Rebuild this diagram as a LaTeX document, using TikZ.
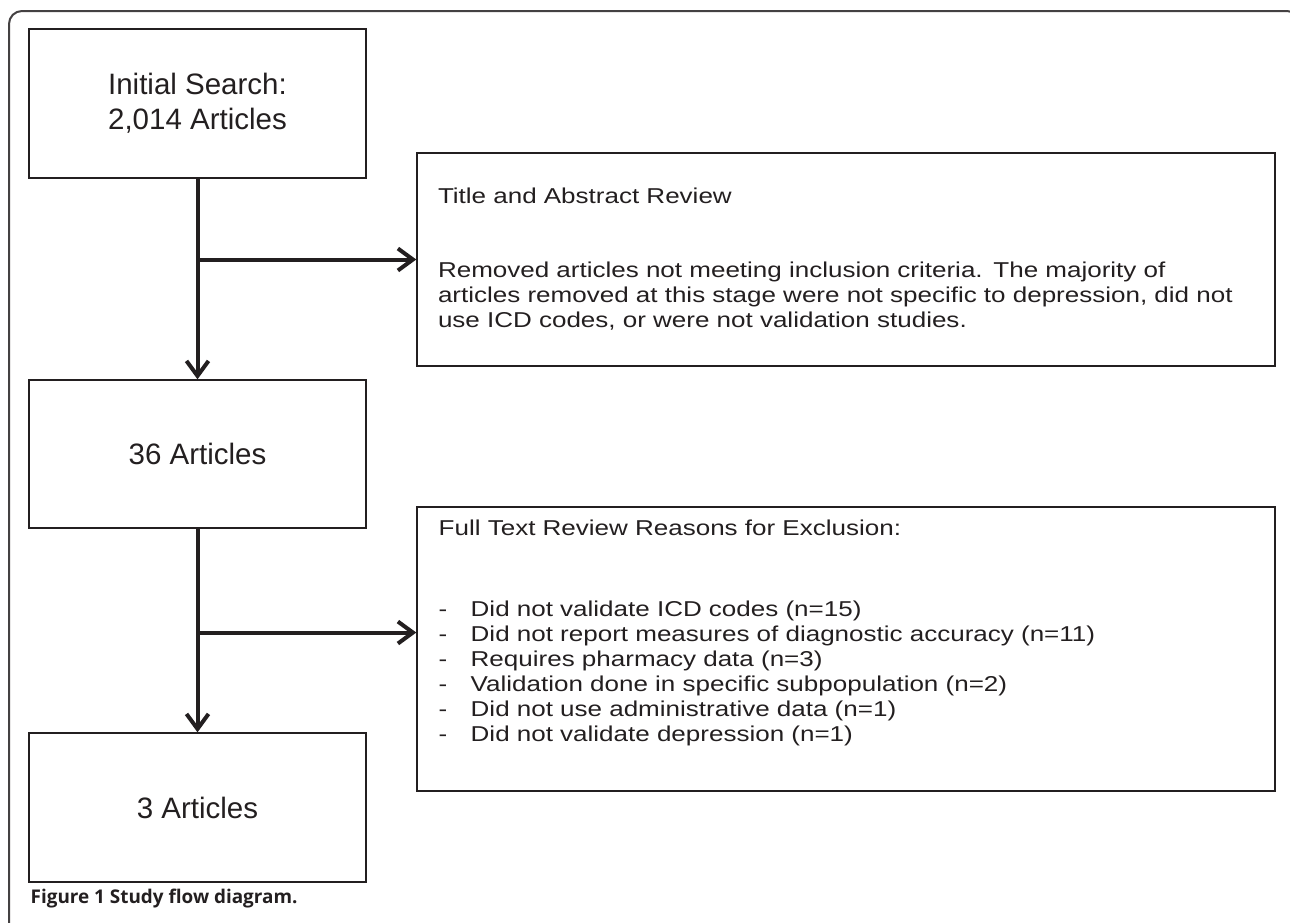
\documentclass[tikz,border=0pt]{standalone}
\usepackage{fontspec}
\setmainfont{Liberation Sans}
\newfontfamily\widefont[FakeStretch=1.21]{Liberation Sans}
\newfontfamily\captionfont{Open Sans}
\usetikzlibrary{arrows.meta, positioning, calc}
\definecolor{ink}{HTML}{231F20}
\newcommand{\dashitem}{\makebox[32pt][l]{-}}

\begin{document}
\begin{tikzpicture}[x=1pt, y=-1pt, thick]

	% Define style for boxes
	\tikzstyle{block} = [rectangle, draw=ink, line width=1.4pt, text=ink,
						minimum width=337pt, minimum height=149pt,
						align=center, font=\fontsize{29.5}{35}\selectfont]
	\tikzstyle{reason} = [rectangle, draw=ink, line width=1.4pt, text=ink,
						inner xsep=21pt, inner ysep=0pt, text width=816pt, align=left,
						font=\widefont\fontsize{21.5}{25}\selectfont]

	% Define style for arrows
	\tikzstyle{line} = [draw=ink, line width=4pt, -{Straight Barb[length=15pt, width=22pt]}]

	% Page and outer frame
	\useasboundingbox (0,0) rectangle (1290,922);
	\clip (0,0) rectangle (1290,922);
	\draw [ink!85, line width=2pt, rounded corners=13pt] (9,940) -- (9,11) -- (1300,11) -- (1300,940);

	% Place nodes
	\node [block] (search) at (197.5,103.5) {Initial Search:\\2,014 Articles};
	\node [block, minimum height=148pt] (screened) at (197.5,454) {36 Articles};
	\node [block] (included) at (197.5,807.5) {3 Articles};
	\node [reason, minimum height=213pt] (titlereview) at (846,259.5)
		{Title and Abstract Review\\[49pt]
		 Removed articles not meeting inclusion criteria. The majority of\\
		 articles removed at this stage were not specific to depression, did not\\
		 use ICD codes, or were not validation studies.};
	\node [reason, minimum height=284pt] (fulltext) at (846,649) {};
	\node [reason, draw=none, minimum height=0pt, anchor=base west, inner xsep=0pt]
		(fulltextlist) at (438,535)
		{Full Text Review Reasons for Exclusion:\\[56pt]
		 \dashitem Did not validate ICD codes (n=15)\\
		 \dashitem Did not report measures of diagnostic accuracy (n=11)\\
		 \dashitem Requires pharmacy data (n=3)\\
		 \dashitem Validation done in specific subpopulation (n=2)\\
		 \dashitem Did not use administrative data (n=1)\\
		 \dashitem Did not validate depression (n=1)};
	\node [anchor=base west, text=ink, font=\captionfont\bfseries\fontsize{18.9}{22}\selectfont]
		(caption) at (27,903) {Figure 1 Study flow diagram.};

	% Branch points on the vertical lines
	\coordinate (split1) at (search.south |- titlereview.west);
	\coordinate (split2) at ($(screened.south)!0.51!(included.north)$);

	% Draw edges
	\path [line] (search) -- (screened);
	\path [line] (screened) -- (included);
	\path [line] (split1) -- (titlereview.west);
	\path [line] (split2) -- (split2 -| fulltext.west);
\end{tikzpicture}
\end{document}
